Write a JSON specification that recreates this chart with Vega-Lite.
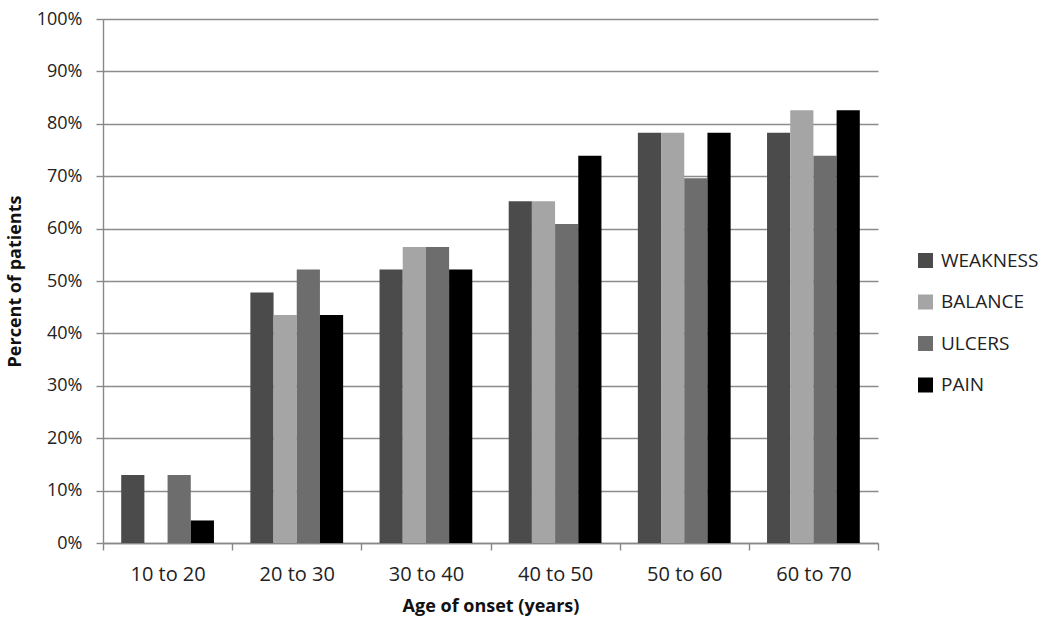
{
  "$schema": "https://vega.github.io/schema/vega-lite/v6.json",
  "autosize": "none",
  "width": 775,
  "height": 524,
  "padding": {"left": 103, "top": 19, "right": 172, "bottom": 85},
  "background": "white",
  "config": {
    "font": "Open Sans",
    "view": {"stroke": null},
    "axis": {"labelColor": "#222", "titleColor": "#111", "labelFontSize": 18, "titleFontSize": 18, "titleFontWeight": "bold", "domainColor": "#888", "tickColor": "#888", "gridColor": "#8c8c8c", "gridWidth": 1.4, "domainWidth": 1.4, "tickWidth": 1.4}
  },
  "data": {
    "values": [
      {"age": "10 to 20", "symptom": "WEAKNESS", "pct": 13.0},
      {"age": "10 to 20", "symptom": "BALANCE", "pct": 0},
      {"age": "10 to 20", "symptom": "ULCERS", "pct": 13.0},
      {"age": "10 to 20", "symptom": "PAIN", "pct": 4.3},
      {"age": "20 to 30", "symptom": "WEAKNESS", "pct": 47.8},
      {"age": "20 to 30", "symptom": "BALANCE", "pct": 43.5},
      {"age": "20 to 30", "symptom": "ULCERS", "pct": 52.2},
      {"age": "20 to 30", "symptom": "PAIN", "pct": 43.5},
      {"age": "30 to 40", "symptom": "WEAKNESS", "pct": 52.2},
      {"age": "30 to 40", "symptom": "BALANCE", "pct": 56.5},
      {"age": "30 to 40", "symptom": "ULCERS", "pct": 56.5},
      {"age": "30 to 40", "symptom": "PAIN", "pct": 52.2},
      {"age": "40 to 50", "symptom": "WEAKNESS", "pct": 65.2},
      {"age": "40 to 50", "symptom": "BALANCE", "pct": 65.2},
      {"age": "40 to 50", "symptom": "ULCERS", "pct": 60.9},
      {"age": "40 to 50", "symptom": "PAIN", "pct": 73.9},
      {"age": "50 to 60", "symptom": "WEAKNESS", "pct": 78.3},
      {"age": "50 to 60", "symptom": "BALANCE", "pct": 78.3},
      {"age": "50 to 60", "symptom": "ULCERS", "pct": 69.6},
      {"age": "50 to 60", "symptom": "PAIN", "pct": 78.3},
      {"age": "60 to 70", "symptom": "WEAKNESS", "pct": 78.3},
      {"age": "60 to 70", "symptom": "BALANCE", "pct": 82.6},
      {"age": "60 to 70", "symptom": "ULCERS", "pct": 73.9},
      {"age": "60 to 70", "symptom": "PAIN", "pct": 82.6}
    ]
  },
  "mark": {"type": "bar"},
  "encoding": {
    "x": {
      "field": "age", "type": "nominal", "sort": null,
      "scale": {"paddingInner": 0, "paddingOuter": 0},
      "axis": {"title": "Age of onset (years)", "labelAngle": 0, "labelFontSize": 20, "tickBand": "extent", "tickSize": 7, "labelPadding": 14, "titlePadding": 13}
    },
    "xOffset": {"field": "symptom", "type": "nominal", "sort": ["WEAKNESS", "BALANCE", "ULCERS", "PAIN"], "scale": {"paddingInner": 0, "paddingOuter": 0.785}},
    "y": {
      "field": "pct", "type": "quantitative",
      "scale": {"domain": [0, 100]},
      "axis": {"title": "Percent of patients", "values": [0,10,20,30,40,50,60,70,80,90,100], "labelExpr": "datum.value + '%'", "tickSize": 7, "labelPadding": 14, "titlePadding": 12}
    },
    "color": {
      "field": "symptom", "type": "nominal",
      "sort": ["WEAKNESS", "BALANCE", "ULCERS", "PAIN"],
      "scale": {"domain": ["WEAKNESS", "BALANCE", "ULCERS", "PAIN"], "range": ["#4b4b4b", "#a5a5a5", "#6d6d6d", "#000000"]},
      "legend": {"title": null, "orient": "none", "legendX": 813, "legendY": 232, "symbolType": "square", "symbolSize": 225, "symbolStrokeWidth": 0, "labelFontSize": 19, "labelColor": "#222", "rowPadding": 21.5, "labelOffset": 6, "padding": 0}
    }
  }
}
